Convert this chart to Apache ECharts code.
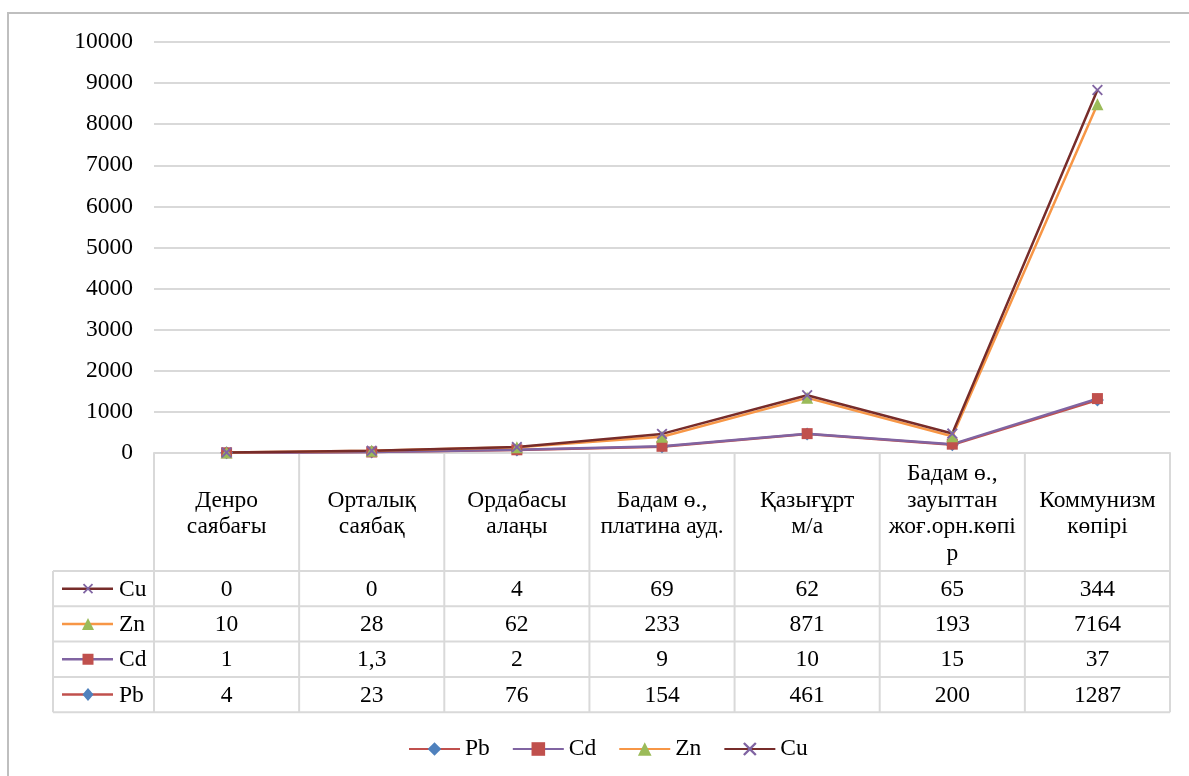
<!DOCTYPE html>
<html>
<head>
<meta charset="utf-8">
<script src="https://cdn.jsdelivr.net/npm/echarts@6/dist/echarts.min.js"></script>
<style>
  html, body { margin: 0; padding: 0; background: #fff; }
  #chart { width: 1189px; height: 776px; }
</style>
</head>
<body>
<div id="chart"></div>
<script>
// Sampling sites (header row of the data table)
const categories = [
  'Денро\nсаябағы',
  'Орталық\nсаябақ',
  'Ордабасы\nалаңы',
  'Бадам ө.,\nплатина ауд.',
  'Қазығұрт\nм/а',
  'Бадам ө.,\nзауыттан\nжоғ.орн.көпі\nр',
  'Коммунизм\nкөпірі'
];
// Metal concentrations per site
const pb = [4, 23, 76, 154, 461, 200, 1287];
const cd = [1, 1.3, 2, 9, 10, 15, 37];
const zn = [10, 28, 62, 233, 871, 193, 7164];
const cu = [0, 0, 4, 69, 62, 65, 344];
const yTicks = [0, 1000, 2000, 3000, 4000, 5000, 6000, 7000, 8000, 9000, 10000];

const FONT = '"Liberation Serif", "Times New Roman", serif';
const FS = 23.5;
const GRID_COLOR = '#D9D9D9';

// X-shaped marker drawn as a filled outline
const crossSymbol = 'path://M0,1.2L1.2,0L5,3.8L8.8,0L10,1.2L6.2,5L10,8.8L8.8,10L5,6.2L1.2,10L0,8.8L3.8,5Z';

const seriesDefs = [
  { name: 'Pb', data: pb, line: '#C0504D', marker: '#4F81BD', symbol: 'diamond', size: 13 },
  { name: 'Cd', data: cd, line: '#8064A2', marker: '#C0504D', symbol: 'rect', size: 11 },
  { name: 'Zn', data: zn, line: '#F79646', marker: '#9BBB59', symbol: 'triangle', size: 12 },
  { name: 'Cu', data: cu, line: '#772C2A', marker: '#8064A2', symbol: crossSymbol, size: 11 }
];

// Rows of the table, top to bottom
const tableRows = ['Cu', 'Zn', 'Cd', 'Pb'];

function fmt(v) { return String(v).replace('.', ','); }

const chart = echarts.init(document.getElementById('chart'), null, { renderer: 'canvas' });

const grid = { left: 154, right: 19, top: 42, bottom: 323 };
const headerH = 118;
const rowH = 35.3;
const labelColLeft = 53;

chart.setOption({
  animation: false,
  backgroundColor: '#fff',
  textStyle: { fontFamily: FONT },
  grid: grid,
  legend: {
    top: 732,
    left: 403,
    itemWidth: 51,
    itemHeight: 17,
    itemGap: 22,
    textStyle: { fontFamily: FONT, fontSize: FS, color: '#000' },
    data: seriesDefs.map(s => s.name)
  },
  xAxis: {
    type: 'category',
    data: categories,
    boundaryGap: true,
    axisLine: { show: true, lineStyle: { color: GRID_COLOR, width: 2 } },
    axisTick: { show: false },
    axisLabel: {
      interval: 0,
      fontFamily: FONT,
      fontSize: FS,
      color: '#000',
      lineHeight: 26.5,
      margin: headerH / 2 + 2,
      verticalAlign: 'middle',
      align: 'center'
    }
  },
  yAxis: {
    type: 'value',
    min: 0,
    max: 10000,
    interval: 1000,
    axisLine: { show: false },
    axisTick: { show: false },
    splitLine: { lineStyle: { color: GRID_COLOR, width: 2 } },
    axisLabel: {
      fontFamily: FONT,
      fontSize: FS,
      color: '#000',
      margin: 21,
      formatter: v => yTicks.includes(v) ? String(v) : ''
    }
  },
  series: seriesDefs.map(s => ({
    name: s.name,
    type: 'line',
    stack: 'total',
    data: s.data,
    symbol: s.symbol,
    symbolSize: s.size,
    showSymbol: true,
    lineStyle: { color: s.line, width: 2.5 },
    itemStyle: { color: s.marker },
    z: 3
  }))
});

function markerGraphic(def, cx, cy) {
  const s = def.size;
  if (def.symbol === 'diamond') {
    return { type: 'polygon', shape: { points: [[cx, cy - s / 2], [cx + s / 2 * 0.85, cy], [cx, cy + s / 2], [cx - s / 2 * 0.85, cy]] }, style: { fill: def.marker }, silent: true };
  }
  if (def.symbol === 'rect') {
    return { type: 'rect', shape: { x: cx - s / 2, y: cy - s / 2, width: s, height: s }, style: { fill: def.marker }, silent: true };
  }
  if (def.symbol === 'triangle') {
    return { type: 'polygon', shape: { points: [[cx, cy - s / 2], [cx + s / 2, cy + s / 2], [cx - s / 2, cy + s / 2]] }, style: { fill: def.marker }, silent: true };
  }
  const h = s / 2 - 1;
  return { type: 'group', silent: true, children: [
    { type: 'line', shape: { x1: cx - h, y1: cy - h, x2: cx + h, y2: cy + h }, style: { stroke: def.marker, lineWidth: 1.8 } },
    { type: 'line', shape: { x1: cx - h, y1: cy + h, x2: cx + h, y2: cy - h }, style: { stroke: def.marker, lineWidth: 1.8 } }
  ] };
}

// Data table beneath the plot, aligned to the category axis
function drawTable() {
  const els = [];
  const axisY = chart.convertToPixel({ yAxisIndex: 0 }, 0);
  const x0 = chart.convertToPixel({ xAxisIndex: 0 }, 0);
  const x1 = chart.convertToPixel({ xAxisIndex: 0 }, 1);
  const bw = x1 - x0;
  const left = x0 - bw / 2;
  const right = left + bw * categories.length;
  const headerBottom = axisY + headerH;
  const tableBottom = headerBottom + rowH * tableRows.length;
  const lineStyle = { stroke: GRID_COLOR, lineWidth: 2 };

  // vertical lines at category boundaries
  for (let i = 0; i <= categories.length; i++) {
    const x = left + bw * i;
    els.push({ type: 'line', shape: { x1: x, y1: axisY, x2: x, y2: tableBottom }, style: lineStyle, silent: true });
  }
  // left label column border
  els.push({ type: 'line', shape: { x1: labelColLeft, y1: headerBottom, x2: labelColLeft, y2: tableBottom }, style: lineStyle, silent: true });
  // horizontal lines
  for (let r = 0; r <= tableRows.length; r++) {
    const y = headerBottom + rowH * r;
    els.push({ type: 'line', shape: { x1: labelColLeft, y1: y, x2: right, y2: y }, style: lineStyle, silent: true });
  }

  tableRows.forEach((name, r) => {
    const def = seriesDefs.find(s => s.name === name);
    const cy = headerBottom + rowH * r + rowH / 2;
    // series key in the label column
    els.push({ type: 'line', shape: { x1: 62, y1: cy, x2: 113, y2: cy }, style: { stroke: def.line, lineWidth: 2.5 }, silent: true });
    els.push(markerGraphic(def, 88, cy));
    els.push({
      type: 'text', x: 119, y: cy + 1,
      style: { text: name, font: FS + 'px ' + FONT, fill: '#000', align: 'left', verticalAlign: 'middle' },
      silent: true
    });
    def.data.forEach((v, i) => {
      const cx = chart.convertToPixel({ xAxisIndex: 0 }, i);
      els.push({
        type: 'text', x: cx, y: cy + 1,
        style: { text: fmt(v), font: FS + 'px ' + FONT, fill: '#000', align: 'center', verticalAlign: 'middle' },
        silent: true
      });
    });
  });

  // outer chart frame
  els.push({ type: 'rect', shape: { x: 8, y: 13, width: 1200, height: 800 }, style: { fill: 'none', stroke: '#BFBFBF', lineWidth: 2 }, silent: true, z: -1 });

  chart.setOption({ graphic: els });
}

drawTable();
</script>
</body>
</html>
